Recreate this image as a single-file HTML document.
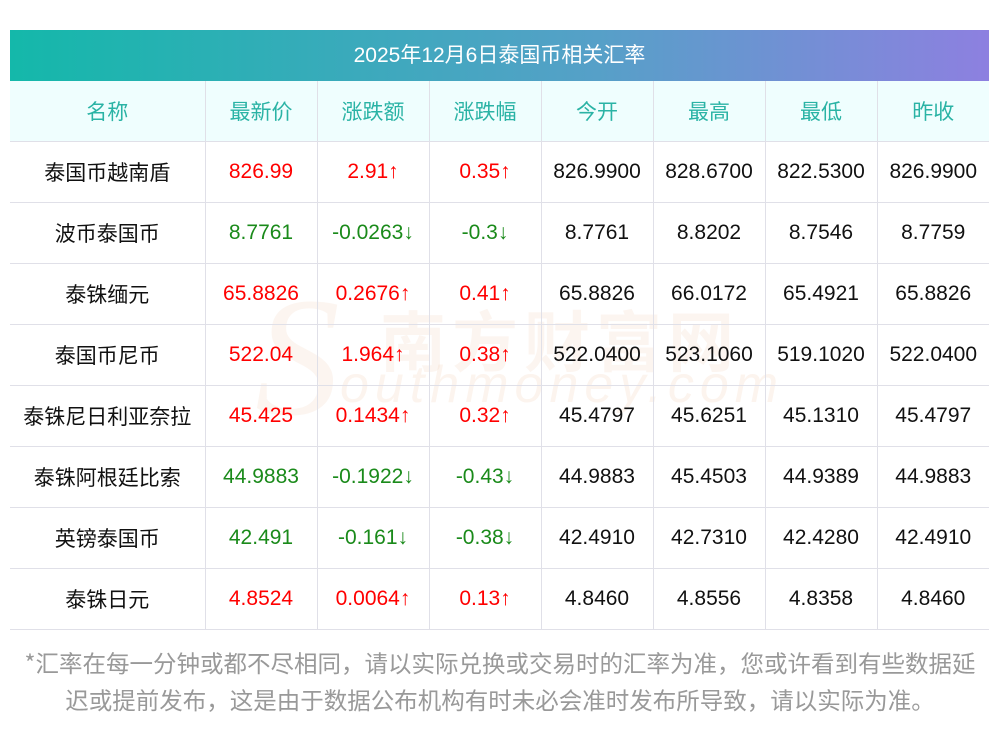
<!DOCTYPE html>
<html><head><meta charset="utf-8"><style>
body{margin:0;background:#fff;width:1000px;height:733px;overflow:hidden;font-family:"Liberation Sans","Noto Sans CJK SC",sans-serif;position:relative}
.title{position:absolute;left:10px;top:30px;width:979px;height:51px;background:linear-gradient(90deg,#14b8aa,#56a0c8 60%,#8d80e0);color:#fff;font-size:21px;line-height:51px;text-align:center}
table{position:absolute;left:10px;top:81px;border-collapse:collapse;width:979px;table-layout:fixed}
td{height:60px;border:1px solid #e0e0e8;text-align:center;font-size:21px;padding:0;color:#111}
td.c{font-family:"Noto Sans CJK SC",sans-serif;font-size:21px}
tr td:first-child{border-left:none}tr td:last-child{border-right:none}
tr:first-child td{border-top:none;background:#effefe;color:#2ab3a5;font-family:"Noto Sans CJK SC",sans-serif}
.r{color:#f00}.g{color:#1a8a1a}
.foot{position:absolute;left:0;top:644px;width:1000px;text-align:center;color:#999;font-size:23.5px;line-height:37px;font-family:"Noto Sans CJK SC",sans-serif;white-space:nowrap}
.wm{position:absolute;left:380px;top:290px;font-size:66px;color:rgba(240,200,170,.18);font-weight:bold;letter-spacing:6px;font-family:"Noto Sans CJK SC",sans-serif}
.wm2{position:absolute;left:340px;top:355px;font-size:52px;color:rgba(240,200,170,.2);font-style:italic;letter-spacing:6px}
.wm3{position:absolute;left:255px;top:260px;font-size:170px;color:rgba(240,200,170,.18);font-style:italic;font-family:"Liberation Serif",serif}
</style></head><body>
<div class="title">2025年12月6日泰国币相关汇率</div>
<div class="wm3">S</div><div class="wm">南方财富网</div><div class="wm2">outhmoney.com</div>
<table>
<colgroup><col style="width:195px"><col style="width:112px"><col style="width:112px"><col style="width:112px"><col style="width:112px"><col style="width:112px"><col style="width:112px"><col style="width:112px"></colgroup>
<tr><td>名称</td><td>最新价</td><td>涨跌额</td><td>涨跌幅</td><td>今开</td><td>最高</td><td>最低</td><td>昨收</td></tr>
<tr><td class="c">泰国币越南盾</td><td class="r">826.99</td><td class="r">2.91↑</td><td class="r">0.35↑</td><td>826.9900</td><td>828.6700</td><td>822.5300</td><td>826.9900</td></tr>
<tr><td class="c">波币泰国币</td><td class="g">8.7761</td><td class="g">-0.0263↓</td><td class="g">-0.3↓</td><td>8.7761</td><td>8.8202</td><td>8.7546</td><td>8.7759</td></tr>
<tr><td class="c">泰铢缅元</td><td class="r">65.8826</td><td class="r">0.2676↑</td><td class="r">0.41↑</td><td>65.8826</td><td>66.0172</td><td>65.4921</td><td>65.8826</td></tr>
<tr><td class="c">泰国币尼币</td><td class="r">522.04</td><td class="r">1.964↑</td><td class="r">0.38↑</td><td>522.0400</td><td>523.1060</td><td>519.1020</td><td>522.0400</td></tr>
<tr><td class="c">泰铢尼日利亚奈拉</td><td class="r">45.425</td><td class="r">0.1434↑</td><td class="r">0.32↑</td><td>45.4797</td><td>45.6251</td><td>45.1310</td><td>45.4797</td></tr>
<tr><td class="c">泰铢阿根廷比索</td><td class="g">44.9883</td><td class="g">-0.1922↓</td><td class="g">-0.43↓</td><td>44.9883</td><td>45.4503</td><td>44.9389</td><td>44.9883</td></tr>
<tr><td class="c">英镑泰国币</td><td class="g">42.491</td><td class="g">-0.161↓</td><td class="g">-0.38↓</td><td>42.4910</td><td>42.7310</td><td>42.4280</td><td>42.4910</td></tr>
<tr><td class="c">泰铢日元</td><td class="r">4.8524</td><td class="r">0.0064↑</td><td class="r">0.13↑</td><td>4.8460</td><td>4.8556</td><td>4.8358</td><td>4.8460</td></tr>
</table>
<div class="foot">*汇率在每一分钟或都不尽相同，请以实际兑换或交易时的汇率为准，您或许看到有些数据延<br>迟或提前发布，这是由于数据公布机构有时未必会准时发布所导致，请以实际为准。</div>
</body></html>
